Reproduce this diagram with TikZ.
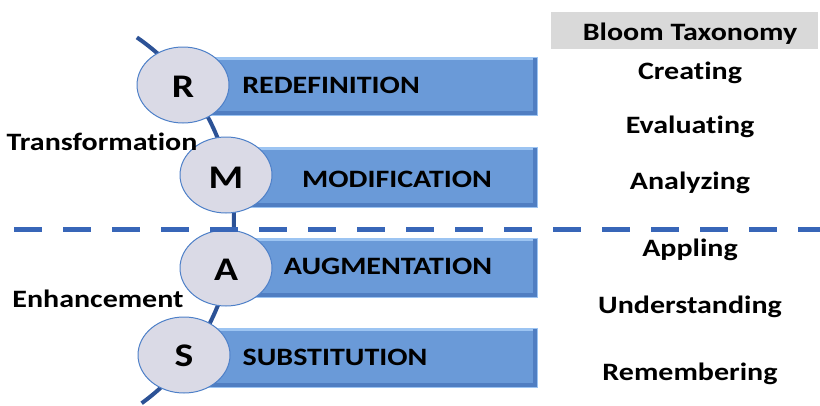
\documentclass[tikz,border=0pt]{standalone}
\usepackage{fontspec}
\setmainfont[Ligatures=NoCommon]{Carlito}
\usetikzlibrary{shapes.geometric}
\definecolor{arcblue}{RGB}{44,82,150}
\definecolor{dashblue}{RGB}{56,102,184}
\definecolor{barfill}{RGB}{106,154,216}
\definecolor{barlight}{RGB}{156,196,242}
\definecolor{bardark}{RGB}{80,126,194}
\definecolor{ellfill}{RGB}{218,218,230}
\definecolor{ellline}{RGB}{78,128,200}
\definecolor{bloomgray}{RGB}{217,217,217}
\newcommand{\wtxt}[1]{\scalebox{1.2}[1]{#1}}
\begin{document}
\begin{tikzpicture}[x=1pt,y=-1pt,
  barbox/.style={draw=barlight, line width=0.8pt, fill=barfill, inner sep=0pt,
    path picture={
      \fill[barlight] (path picture bounding box.north west) rectangle ([yshift=-3pt]path picture bounding box.north east);
      \fill[bardark] (path picture bounding box.south west) rectangle ([yshift=4pt]path picture bounding box.south east);
      \fill[bardark] (path picture bounding box.north east) rectangle ([xshift=-4pt]path picture bounding box.south east);
    }},
  ellnode/.style={ellipse, draw=ellline, line width=1pt, fill=ellfill, minimum width=92pt, minimum height=76pt, inner sep=0pt},
  lettertxt/.style={font=\fontsize{33}{36}\selectfont\bfseries, anchor=base, inner sep=0pt},
  bartxt/.style={font=\fontsize{25}{29}\selectfont\bfseries, anchor=base, inner sep=0pt},
  sidetxt/.style={font=\fontsize{25}{29}\selectfont\bfseries, anchor=base, inner sep=0pt},
  bloomtxt/.style={font=\fontsize{25}{29}\selectfont\bfseries, anchor=base, inner sep=0pt},
]
\useasboundingbox (0,0) rectangle (820,405);
\clip (0,0) rectangle (820,405);

% curved spine
\draw[arcblue, line width=4pt] plot[domain=-55.5:54, samples=80] ({10+224*cos(\x)},{222+224*sin(\x)});

% bars
\node[barbox, minimum width=332pt, minimum height=58pt] (barR) at (371,86) {};
\node[barbox, minimum width=287pt, minimum height=60pt] (barM) at (393.5,177) {};
\node[barbox, minimum width=287pt, minimum height=59pt] (barA) at (393.5,267.5) {};
\node[barbox, minimum width=332pt, minimum height=59pt] (barS) at (371,357.5) {};

% bar labels
\node[bartxt] (labR) at (331,93) {\wtxt{REDEFINITION}};
\node[bartxt] (labM) at (397,187) {\wtxt{MODIFICATION}};
\node[bartxt] (labA) at (388,274) {\wtxt{AUGMENTATION}};
\node[bartxt] (labS) at (335,365) {\wtxt{SUBSTITUTION}};

% ellipses
\node[ellnode] (R) at (183,85) {};
\node[ellnode] (M) at (226,175) {};
\node[ellnode] (A) at (226,268) {};
\node[ellnode] (S) at (184,355) {};
\node[lettertxt] (Rt) at (183,97) {\wtxt{R}};
\node[lettertxt] (Mt) at (226,188) {\wtxt{M}};
\node[lettertxt] (At) at (226,280) {\wtxt{A}};
\node[lettertxt] (St) at (184,366) {\wtxt{S}};

% side labels
\node[sidetxt] (trans) at (102,150) {\wtxt{Transformation}};
\node[sidetxt] (enh) at (98,307) {\wtxt{Enhancement}};

% dashed divider
\coordinate (dl) at (14,229);
\coordinate (dr) at (830,229);
\draw[dashblue, line width=5pt, dash pattern=on 28pt off 21pt] (dl) -- (dr);

% Bloom column
\node[fill=bloomgray, minimum width=267pt, minimum height=37pt, inner sep=0pt] (bloombox) at (684.5,30.5) {};
\node[bloomtxt] (bloom) at (690,40) {\wtxt{Bloom Taxonomy}};
\node[bloomtxt] (c1) at (690,79) {\wtxt{Creating}};
\node[bloomtxt] (c2) at (690,133) {\wtxt{Evaluating}};
\node[bloomtxt] (c3) at (690,189) {\wtxt{Analyzing}};
\node[bloomtxt] (c4) at (690,256) {\wtxt{Appling}};
\node[bloomtxt] (c5) at (690,313) {\wtxt{Understanding}};
\node[bloomtxt] (c6) at (690,380) {\wtxt{Remembering}};
\end{tikzpicture}
\end{document}
